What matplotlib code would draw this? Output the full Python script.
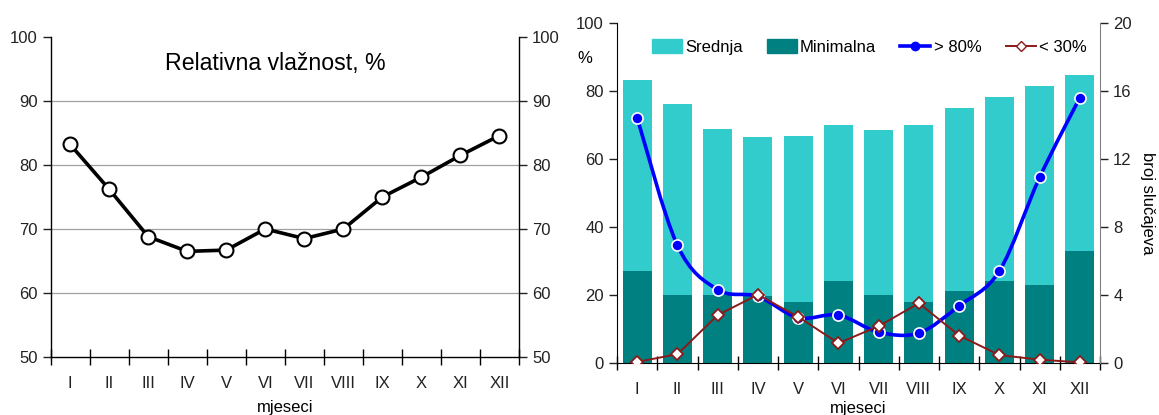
import numpy as np
import matplotlib.pyplot as plt
from matplotlib.path import Path
from matplotlib.patches import PathPatch, Patch
from matplotlib.lines import Line2D

plt.rcParams['font.family'] = ['Liberation Sans', 'DejaVu Sans']

months = ['I', 'II', 'III', 'IV', 'V', 'VI', 'VII', 'VIII', 'IX', 'X', 'XI', 'XII']
srednja = [83.2, 76.2, 68.8, 66.5, 66.7, 70.0, 68.5, 70.0, 75.0, 78.1, 81.5, 84.6]
minimalna = [27, 20, 20, 19.5, 18, 24, 20, 18, 21, 24, 23, 33]
iznad_80 = [14.4, 6.9, 4.3, 3.9, 2.65, 2.8, 1.8, 1.75, 3.35, 5.4, 10.9, 15.6]
ispod_30 = [0.05, 0.5, 2.8, 4.0, 2.7, 1.15, 2.15, 3.5, 1.6, 0.45, 0.18, 0.02]

x = np.arange(len(months))
fig = plt.figure(figsize=(11.59, 4.15), dpi=100)

# ---- lijevi graf
ax = fig.add_axes([0.0437, 0.1398, 0.4041, 0.7711])
ax.plot(x, srednja, color='black', lw=2.6, marker='o', ms=10,
        mfc='white', mec='black', mew=1.5, zorder=3)
ax.set_xlim(-0.5, 11.5)
ax.set_ylim(50, 100)
ax.set_yticks(range(50, 101, 10))
ax.yaxis.grid(True, color='#a0a0a0', lw=0.9)
ax.set_xticks(x)
ax.set_xticklabels(months)
ax.set_xticks(np.arange(-0.5, 12, 1), minor=True)
ax.tick_params(axis='x', which='major', length=0, pad=14, labelsize=12, colors='#222222')
ax.tick_params(axis='x', which='minor', length=12, direction='inout', width=1)
ax.tick_params(axis='y', labelsize=12, length=6, width=1, right=True,
               labelright=True, colors='#222222')
ax.spines['top'].set_visible(False)
for s in ['left', 'right', 'bottom']:
    ax.spines[s].set_linewidth(1.0)
fig.canvas.draw()
gl = ax.yaxis.get_gridlines()
gl[0].set_visible(False)
gl[-1].set_visible(False)
ax.text(0.479, 0.917, 'Relativna vlažnost, %', transform=ax.transAxes,
        ha='center', va='center', fontsize=16.7)
ax.set_xlabel('mjeseci', fontsize=12, labelpad=6)

# ---- desni graf
bx = fig.add_axes([0.5324, 0.126, 0.4167, 0.8193])
bx.bar(x, srednja, width=0.72, color='#33cccc', zorder=1)
bx.bar(x, minimalna, width=0.72, color='#008080', zorder=2)
bx.set_xlim(-0.5, 11.5)
bx.set_ylim(0, 100)
bx.set_yticks(range(0, 101, 20))
bx.set_xticks(x)
bx.set_xticklabels(months)
bx.set_xticks(np.arange(-0.5, 12, 1), minor=True)
bx.tick_params(axis='x', which='major', length=0, pad=14, labelsize=12, colors='#222222')
bx.tick_params(axis='x', which='minor', length=10, direction='inout', width=1)
bx.tick_params(axis='y', labelsize=12, length=6, width=1, colors='#222222')
bx.spines['top'].set_visible(False)
bx.spines['right'].set_visible(False)
bx.set_xlabel('mjeseci', fontsize=12, labelpad=3)
bx.text(-0.066, 0.896, '%', transform=bx.transAxes, ha='center', va='center', fontsize=12)

cx = bx.twinx()
cx.set_ylim(0, 20)
cx.set_yticks(range(0, 21, 4))
cx.tick_params(axis='y', labelsize=12, length=6, width=1, colors='#222222')
cx.spines['right'].set_color('#808080')
cx.spines['top'].set_visible(False)
cx.spines['left'].set_visible(False)
cx.spines['bottom'].set_visible(False)
cx.set_ylabel('broj slučajeva', fontsize=12, rotation=270, va='center')
cx.yaxis.set_label_coords(1.099, 0.47)

# zaglađena linija (> 80%) kao Bezier put
yy = np.array(iznad_80)
verts = [(x[0], yy[0])]
codes = [Path.MOVETO]
n = len(x)
for i in range(n - 1):
    p0 = np.array([x[max(i - 1, 0)], yy[max(i - 1, 0)]])
    p1 = np.array([x[i], yy[i]])
    p2 = np.array([x[i + 1], yy[i + 1]])
    p3 = np.array([x[min(i + 2, n - 1)], yy[min(i + 2, n - 1)]])
    c1 = p1 + (p2 - p0) / 6
    c2 = p2 - (p3 - p1) / 6
    verts += [tuple(c1), tuple(c2), tuple(p2)]
    codes += [Path.CURVE4] * 3
cx.add_patch(PathPatch(Path(verts, codes), fill=False, edgecolor='#0000ff',
                       lw=2.6, zorder=3))
cx.plot(x, iznad_80, ls='none', marker='o', ms=8, mfc='#0000ff', mec='white',
        mew=1.2, zorder=4)
cx.plot(x, ispod_30, color='#8b1a1a', lw=1.4, marker='D', ms=6, mfc='white',
        mec='#8b1a1a', mew=1.3, zorder=5)

handles = [Patch(color='#33cccc'), Patch(color='#008080'),
           Line2D([], [], color='#0000ff', lw=2.6, marker='o', ms=6),
           Line2D([], [], color='#8b1a1a', lw=1.4, marker='D', ms=5, mfc='white')]
cx.legend(handles, ['Srednja', 'Minimalna', '> 80%', '< 30%'], ncol=4,
          loc='upper center', bbox_to_anchor=(0.522, 0.99), frameon=False,
          fontsize=12, handlelength=1.8, handleheight=0.9, handletextpad=0.2,
          columnspacing=1.45, borderpad=0.3)

fig.savefig('out.png', dpi=100)
